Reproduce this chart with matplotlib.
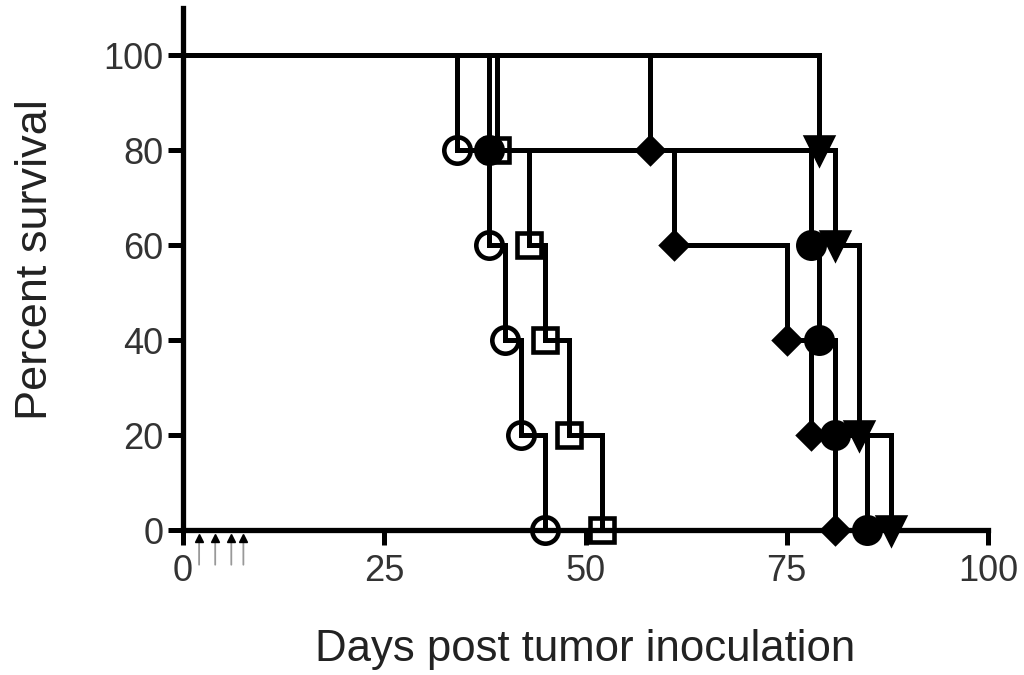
import matplotlib
matplotlib.use("Agg")
import matplotlib.pyplot as plt
from matplotlib.transforms import offset_copy

plt.rcParams['font.family'] = ['Liberation Sans', 'DejaVu Sans']

# Kaplan-Meier step data (days, percent survival)
open_circle_days = [0, 34, 38, 40, 42, 45]
open_circle_surv = [100, 80, 60, 40, 20, 0]

open_square_days = [0, 39, 43, 45, 48, 52]
open_square_surv = [100, 80, 60, 40, 20, 0]

filled_circle_days = [0, 38, 78, 79, 81, 85]
filled_circle_surv = [100, 80, 60, 40, 20, 0]

diamond_days = [0, 58, 61, 75, 78, 81]
diamond_surv = [100, 80, 60, 40, 20, 0]

triangle_days = [0, 79, 81, 84, 88]
triangle_surv = [100, 80, 60, 20, 0]

treatment_days = [2, 4, 6, 7.5]

x_ticks = [0, 25, 50, 75, 100]
y_ticks = [0, 20, 40, 60, 80, 100]

fig = plt.figure(figsize=(10.24, 6.75), dpi=100)
ax = fig.add_axes([183/1024, 1-530/675, (988-183)/1024, (530-8)/675])

groups = [
    (open_circle_days, open_circle_surv, 'o', 'none', 19),
    (open_square_days, open_square_surv, 's', 'none', 17),
    (filled_circle_days, filled_circle_surv, 'o', 'black', 19),
    (diamond_days, diamond_surv, 'D', 'black', 13.5),
    (triangle_days, triangle_surv, 'v', 'black', 19),
]

for days, surv, mk, fc, ms in groups:
    ax.step(days, surv, where='post', color='black', lw=3.6,
            solid_joinstyle='miter', clip_on=False, zorder=3)
    ax.plot(days[1:], surv[1:], linestyle='none', marker=mk, ms=ms,
            mfc=fc, mec='black', mew=3.3, clip_on=False, zorder=4)

ax.set_xlim(0, 100)
ax.set_ylim(0, 110)
ax.set_xticks(x_ticks)
ax.set_yticks(y_ticks)
ax.tick_params(axis='both', direction='out', length=11, width=3.6,
               labelsize=26, colors='black')
ax.tick_params(axis='x', pad=6)
ax.tick_params(axis='y', pad=3)
for side in ['top', 'right']:
    ax.spines[side].set_visible(False)
for side in ['left', 'bottom']:
    ax.spines[side].set_linewidth(3.8)
    ax.spines[side].set_capstyle('projecting')

for lab in ax.get_xticklabels() + ax.get_yticklabels():
    lab.set_color('#333333')

# treatment arrows below the x axis
head_tr = offset_copy(ax.transData, fig=fig, y=-6, units='points')
tail_tr = offset_copy(ax.transData, fig=fig, y=-27, units='points')
for d in treatment_days:
    ax.annotate('', xy=(d, 0), xycoords=head_tr, xytext=(d, 0), textcoords=tail_tr,
                arrowprops=dict(arrowstyle='-', color='#999999', lw=1.3),
                annotation_clip=False)
    ax.plot([d], [0], transform=head_tr, marker='^', ms=6, color='black',
            linestyle='none', clip_on=False, zorder=5)

fig.text(585/1024, 1-650/675, 'Days post tumor inoculation', fontsize=31.5,
         ha='center', va='center', color='#222222')
fig.text(36/1024, 1-260/675, 'Percent survival', fontsize=32.5, rotation=90,
         ha='center', va='center', color='#222222')

fig.savefig('out.png', dpi=100)
